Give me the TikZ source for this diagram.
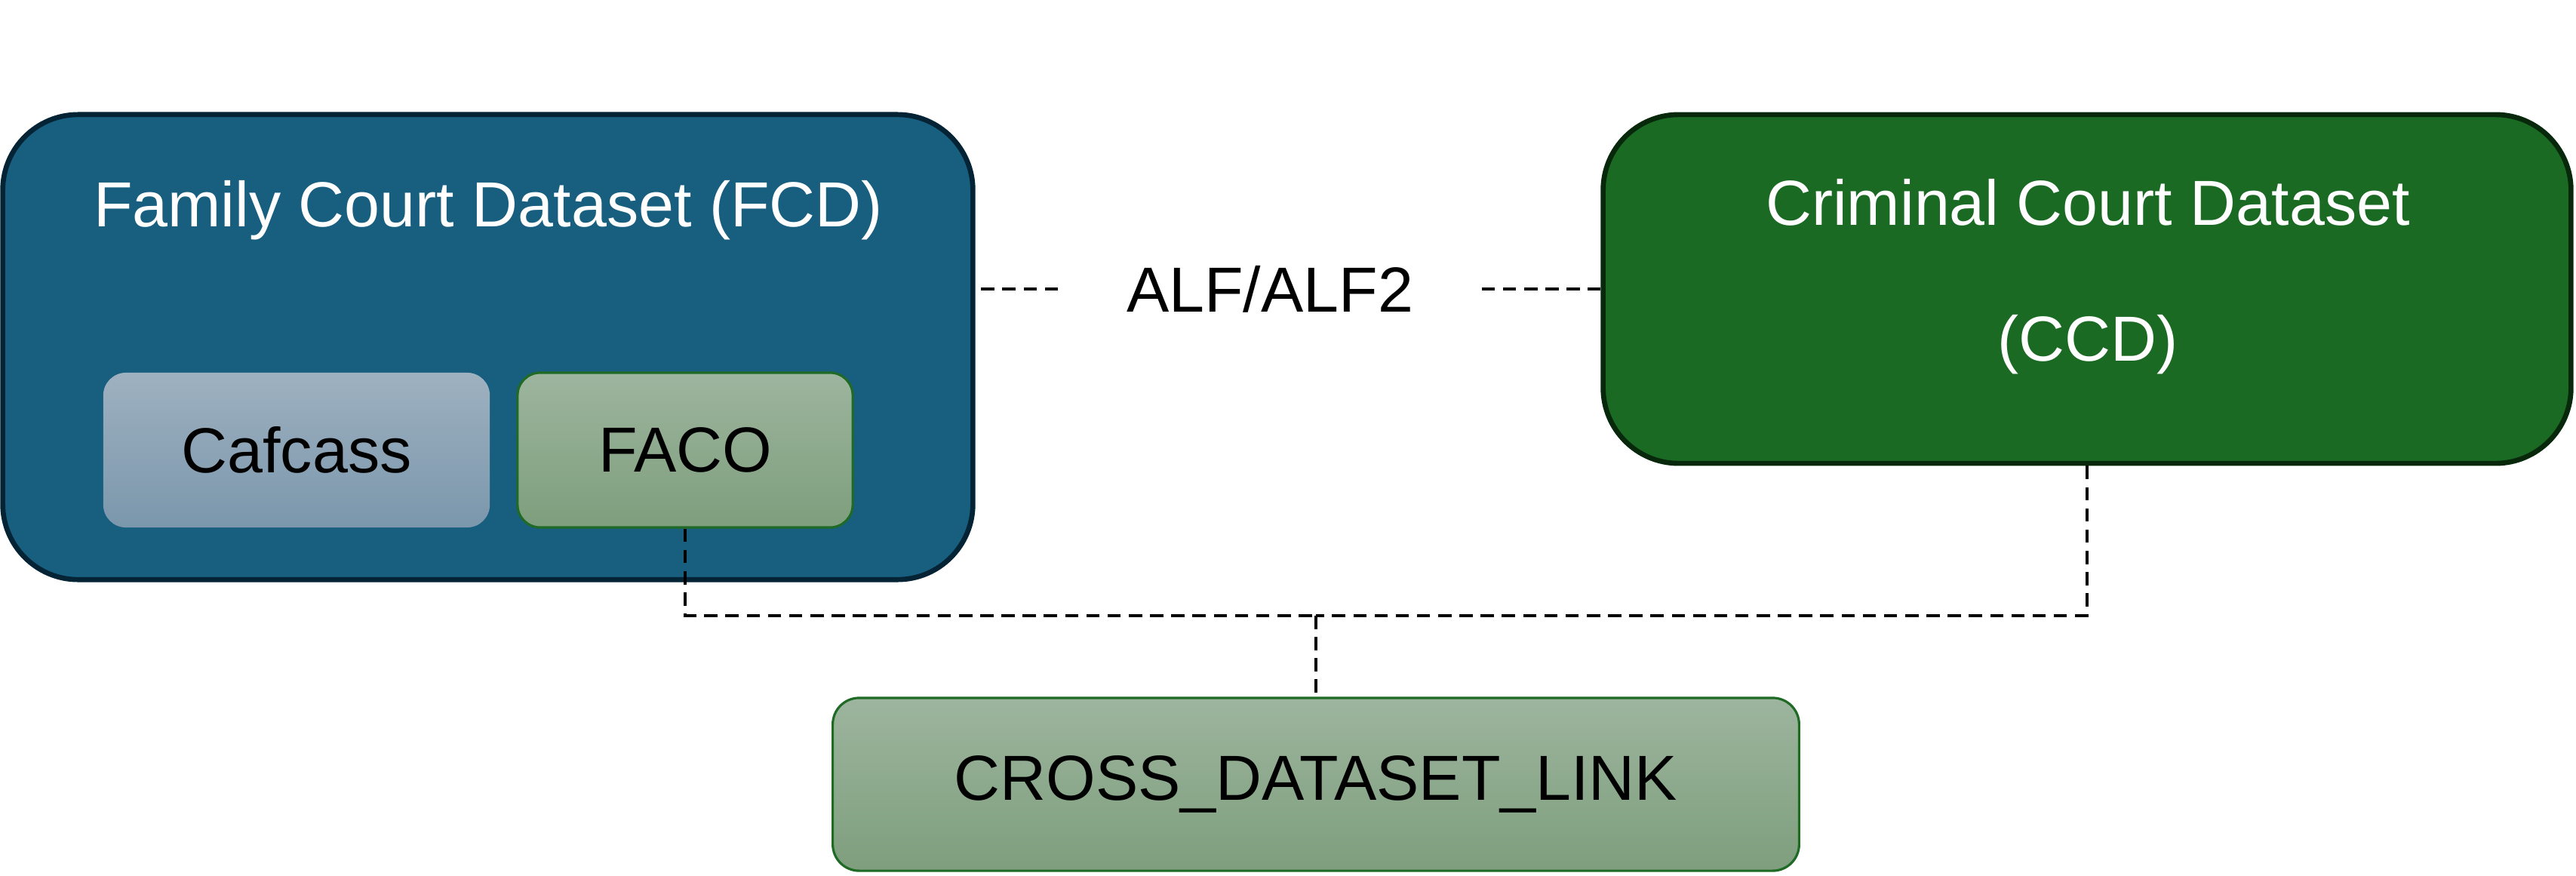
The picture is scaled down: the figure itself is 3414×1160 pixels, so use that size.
\documentclass[tikz,border=0pt]{standalone}
\usepackage{fontspec}
\setmainfont{Liberation Sans}
\usetikzlibrary{positioning}
\definecolor{fcdblue}{RGB}{23,94,127}
\definecolor{fcdline}{RGB}{4,36,54}
\definecolor{ccdgreen}{RGB}{27,106,36}
\definecolor{ccdline}{RGB}{8,40,12}
\definecolor{cafcasstop}{RGB}{158,177,192}
\definecolor{cafcassbot}{RGB}{123,151,172}
\definecolor{sagetop}{RGB}{157,181,158}
\definecolor{sagebot}{RGB}{126,158,125}
\definecolor{sageline}{RGB}{31,107,37}
\newcommand{\boxfont}{\fontsize{24}{29}\selectfont}

\begin{document}
\begin{tikzpicture}[x=0.01cm, y=-0.01cm,
  bigbox/.style={draw, rounded corners=1cm, line width=1.9pt, inner sep=0pt},
  subbox/.style={rounded corners=0.3cm, inner sep=0pt, minimum height=2.05cm, font=\boxfont},
  sagebox/.style={subbox, draw=sageline, line width=0.9pt, top color=sagetop, bottom color=sagebot},
  link/.style={dash pattern=on 5pt off 3pt, line width=1.1pt}]
  \useasboundingbox (0,0) rectangle (3414,1160);
  % family court side
  \node[bigbox, fill=fcdblue, draw=fcdline, minimum width=12.85cm, minimum height=6.16cm] (fcd) at (646.5,460) {};
  \node[text=white, font=\boxfont] (fcdtitle) at (647,279) {Family Court Dataset (FCD)};
  \node[subbox, top color=cafcasstop, bottom color=cafcassbot, minimum width=5.12cm] (cafcass) at (393,596.5) {Cafcass};
  \node[sagebox, minimum width=4.44cm] (faco) at (908,596.5) {FACO};
  % criminal court side
  \node[bigbox, fill=ccdgreen, draw=ccdline, minimum width=12.82cm, minimum height=4.62cm] (ccd) at (2766,383) {};
  \node[text=white, font=\boxfont] (ccdtitle) at (2767,268) {Criminal Court Dataset};
  \node[text=white, font=\boxfont] (ccdabbr) at (2767,457) {(CCD)};
  \node[font=\boxfont, inner xsep=0.9cm] (alf) at (1683,383) {ALF/ALF2};
  \node[sagebox, rounded corners=0.35cm, minimum width=12.8cm, minimum height=2.29cm] (cross) at (1744,1039.5) {CROSS\_DATASET\_LINK};
  % links
  \coordinate (join) at (1744,816);
  \draw[link] (alf.west) -- (alf.west -| fcd.east);
  \draw[link] (alf.east) -- (alf.east -| ccd.west);
  \draw[link] (faco.south) |- (join);
  \draw[link] (ccd.south) |- (join);
  \draw[link] (join) -- (cross.north);
\end{tikzpicture}
\end{document}
